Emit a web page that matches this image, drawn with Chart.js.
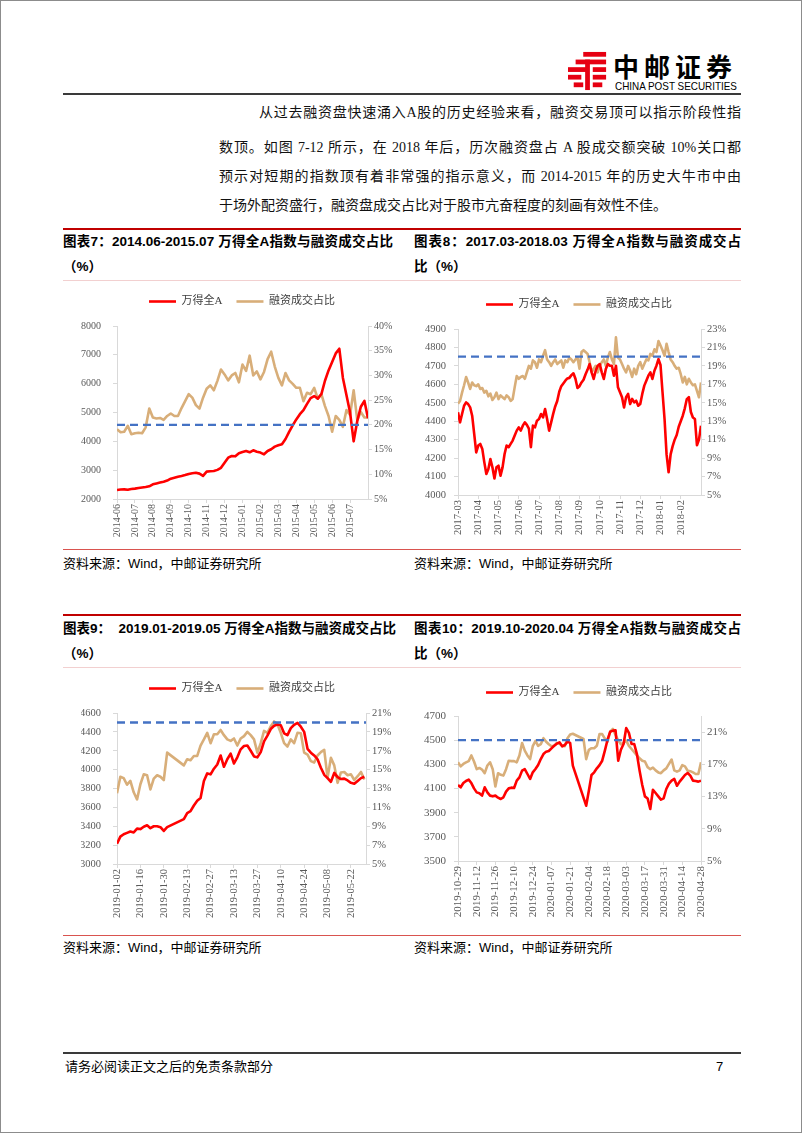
<!DOCTYPE html>
<html lang="zh-CN">
<head>
<meta charset="utf-8">
<script src="https://cdn.jsdelivr.net/npm/chart.js@4.4.1/dist/chart.umd.min.js"></script>
<style>
  html, body { margin: 0; padding: 0; background: #fff; }
  #page { position: relative; width: 802px; height: 1133px; box-sizing: border-box; border: 1px solid #8c8c8c; overflow: hidden;
          font-family: "Liberation Serif", "Noto Sans CJK SC", serif; color: #000; }
  .abs { position: absolute; white-space: nowrap; }
  .line { position: absolute; left: 62px; width: 678px; }
  .para { position: absolute; font-size: 14px; line-height: 20px; white-space: nowrap; text-align: justify; text-align-last: justify; color: #111; }
  .ttl { position: absolute; font-family: "Liberation Sans", "Noto Sans CJK SC", sans-serif; font-weight: bold; font-size: 13.5px;
         line-height: 20px; white-space: nowrap; text-align: justify; text-align-last: justify; }
  .src { position: absolute; font-family: "Liberation Sans", "Noto Sans CJK SC", sans-serif; font-size: 13px; line-height: 18px; white-space: nowrap; }
  canvas { position: absolute; }
</style>
</head>
<body>
<div id="page">
  <!-- header -->
  <svg class="abs" style="left:567px;top:50px" width="40" height="40" viewBox="0 0 42 40">
    <g fill="#E60012">
      <rect x="16" y="0" width="24" height="5"/>
      <rect x="8" y="8" width="32" height="5"/>
      <rect x="0" y="16" width="22" height="5"/>
      <rect x="26" y="16" width="14" height="5"/>
      <rect x="18" y="8" width="5" height="32"/>
      <rect x="0" y="24" width="14" height="5"/>
      <rect x="26" y="24" width="14" height="5"/>
      <rect x="6" y="32" width="10" height="5"/>
      <rect x="26" y="32" width="10" height="5"/>
    </g>
  </svg>
  <div class="abs" style="left:612px;top:51px;font-family:'Noto Sans CJK SC';font-weight:bold;font-size:26px;letter-spacing:5px;line-height:28px;">中邮证券</div>
  <div class="abs" style="left:614px;top:79px;font-family:'Liberation Sans';font-size:11px;line-height:12px;transform:scaleX(0.9);transform-origin:left top;">CHINA POST SECURITIES</div>
  <div class="line" style="top:92px;height:2px;background:#3a3a3a;"></div>

  <!-- paragraph -->
  <div class="para" style="left:258px;top:102px;width:482px;">从过去融资盘快速涌入A股的历史经验来看，融资交易顶可以指示阶段性指</div>
  <div class="para" style="left:218px;top:137px;width:522px;">数顶。如图 7-12 所示，在 2018 年后，历次融资盘占 A 股成交额突破 10%关口都</div>
  <div class="para" style="left:218px;top:166px;width:522px;">预示对短期的指数顶有着非常强的指示意义，而 2014-2015 年的历史大牛市中由</div>
  <div class="para" style="left:218px;top:195px;width:522px;text-align-last:left;">于场外配资盛行，融资盘成交占比对于股市亢奋程度的刻画有效性不佳。</div>

  <!-- first row of figures -->
  <div class="line" style="top:227px;height:2px;background:#C00000;"></div>
  <div class="ttl" style="left:62px;top:231px;width:330px;">图表7：2014.06-2015.07 万得全A指数与融资成交占比</div>
  <div class="ttl" style="left:62px;top:256px;">（%）</div>
  <div class="ttl" style="left:413px;top:231px;width:327px;">图表8：2017.03-2018.03 万得全A指数与融资成交占</div>
  <div class="ttl" style="left:413px;top:256px;">比（%）</div>
  <div class="line" style="top:279px;height:1px;background:#F2D0D0;"></div>

  <canvas id="c1" width="322" height="264" style="left:80px;top:281px;"></canvas>
  <canvas id="c2" width="316" height="261" style="left:420px;top:284px;"></canvas>

  <div class="line" style="top:548px;height:1px;background:#D9534F;"></div>
  <div class="src" style="left:62px;top:554px;">资料来源：Wind，中邮证券研究所</div>
  <div class="src" style="left:413px;top:554px;">资料来源：Wind，中邮证券研究所</div>

  <!-- second row of figures -->
  <div class="line" style="top:613px;height:2px;background:#C00000;"></div>
  <div class="ttl" style="left:62px;top:618px;width:330px;">图表9：&nbsp;&nbsp;2019.01-2019.05 万得全A指数与融资成交占比</div>
  <div class="ttl" style="left:62px;top:643px;">（%）</div>
  <div class="ttl" style="left:413px;top:618px;width:327px;">图表10：2019.10-2020.04 万得全A指数与融资成交占</div>
  <div class="ttl" style="left:413px;top:643px;">比（%）</div>
  <div class="line" style="top:666px;height:1px;background:#F2D0D0;"></div>

  <canvas id="c3" width="322" height="257" style="left:80px;top:668px;"></canvas>
  <canvas id="c4" width="316" height="253" style="left:420px;top:672px;"></canvas>

  <div class="line" style="top:934px;height:1px;background:#D9534F;"></div>
  <div class="src" style="left:62px;top:938px;">资料来源：Wind，中邮证券研究所</div>
  <div class="src" style="left:413px;top:938px;">资料来源：Wind，中邮证券研究所</div>

  <!-- footer -->
  <div class="line" style="top:1051px;height:2px;background:#3a3a3a;"></div>
  <div class="src" style="left:64px;top:1057px;font-family:'Liberation Serif','Noto Sans CJK SC';">请务必阅读正文之后的免责条款部分</div>
  <div class="src" style="left:715px;top:1057px;">7</div>
</div>

<script>
// 阈值线（融资成交占比 20%）
const threshold = 20;

// 图表7：2014.06-2015.07，每 0.2 个月取一个点
const months1 = ['2014-06', '2014-07', '2014-08', '2014-09', '2014-10', '2014-11', '2014-12',
                 '2015-01', '2015-02', '2015-03', '2015-04', '2015-05', '2015-06', '2015-07'];
const step1 = 0.2;
const wind1 = [2312, 2330, 2335, 2320, 2345, 2360, 2380, 2398, 2415, 2440,
               2509, 2540, 2570, 2600, 2640, 2705, 2740, 2775, 2800, 2830,
               2870, 2895, 2910, 2880, 2800, 2950, 2965, 2970, 3010, 3080,
               3260, 3434, 3492, 3480, 3590, 3630, 3665, 3620, 3690, 3640,
               3610, 3550, 3665, 3725, 3815, 3865, 3900, 4080, 4330, 4550,
               4760, 4940, 5080, 5300, 5500, 5570, 5480, 5640, 6100, 6460,
               6750, 7050, 7214, 6200, 5600, 5000, 4000, 4700, 5200, 5400,
               4800];
const ratio1 = [19.1, 18.5, 18.6, 19.8, 18.1, 18.3, 18.4, 18.3, 19.5, 23.3,
                21.5, 21.3, 21.4, 21.0, 21.8, 22.3, 21.8, 21.8, 23.4, 24.8,
                26.2, 25.5, 24.0, 23.3, 25.5, 27.3, 28.0, 27.0, 28.9, 31.2,
                30.2, 29.0, 30.0, 30.5, 28.6, 32.2, 30.9, 34.0, 30.0, 30.8,
                29.2, 30.7, 33.3, 34.8, 31.8, 29.5, 28.0, 30.5, 29.0, 28.3,
                27.5, 27.5, 24.8, 26.5, 26.2, 27.5, 25.3, 26.2, 23.8, 21.8,
                18.6, 21.8, 21.0, 19.6, 23.0, 22.0, 27.0, 21.0, 22.6, 21.5,
                21.5];

// 图表8：2017.03-2018.03，每 0.1 个月取一个点
const months2 = ['2017-03', '2017-04', '2017-05', '2017-06', '2017-07', '2017-08',
                 '2017-09', '2017-10', '2017-11', '2017-12', '2018-01', '2018-02'];
const step2 = 0.1;
const wind2 = [4448, 4394, 4439, 4484, 4502, 4493, 4475, 4430, 4331, 4231,
               4268, 4277, 4250, 4177, 4114, 4141, 4195, 4150, 4090, 4150,
               4159, 4105, 4150, 4222, 4268, 4259, 4277, 4295, 4322, 4349,
               4367, 4349, 4376, 4394, 4380, 4360, 4259, 4376, 4367, 4403,
               4412, 4439, 4421, 4466, 4412, 4349, 4394, 4440, 4480, 4510,
               4560, 4590, 4605, 4620, 4632, 4635, 4650, 4660, 4630, 4580,
               4590, 4610, 4625, 4655, 4680, 4710, 4665, 4629, 4674, 4701,
               4710, 4665, 4629, 4683, 4710, 4701, 4701, 4647, 4701, 4584,
               4557, 4530, 4475, 4530, 4548, 4493, 4521, 4502, 4511, 4484,
               4493, 4548, 4593, 4620, 4647, 4665, 4629, 4674, 4701, 4737,
               4705, 4557, 4412, 4220, 4123, 4220, 4265, 4300, 4325, 4370,
               4400, 4430, 4470, 4520, 4530, 4450, 4420, 4412, 4270, 4300,
               4376];
const ratio2 = [14.9, 15.2, 16.1, 16.9, 17.8, 17.2, 16.5, 17.2, 16.9, 16.8,
                17.0, 16.5, 16.6, 16.1, 16.3, 15.7, 16.0, 15.3, 15.6, 16.1,
                15.4, 15.8, 15.6, 15.4, 15.8, 15.6, 15.2, 15.4, 16.7, 17.9,
                17.6, 17.8, 17.9, 17.6, 18.3, 19.0, 18.7, 19.6, 19.4, 18.8,
                19.7, 19.4, 20.1, 20.7, 19.7, 19.4, 19.0, 19.4, 19.7, 19.2,
                19.4, 19.6, 18.8, 19.6, 19.4, 19.9, 19.7, 19.4, 19.7, 19.9,
                18.7, 20.5, 20.7, 20.5, 20.3, 19.4, 18.3, 18.7, 19.0, 18.3,
                19.0, 19.4, 19.7, 19.0, 19.9, 20.5, 19.7, 19.2, 22.1, 19.9,
                19.7, 19.2, 18.7, 18.3, 19.0, 18.5, 17.8, 18.7, 18.1, 19.0,
                19.4, 18.7, 19.2, 19.7, 19.6, 20.3, 20.1, 20.8, 20.5, 21.7,
                21.2, 20.7, 20.1, 21.4, 20.5, 19.7, 19.4, 19.0, 18.7, 18.8,
                18.1, 17.2, 17.8, 17.0, 17.6, 17.2, 16.9, 17.0, 16.3, 15.6,
                17.2];

// 图表9：2019.01-2019.05，横轴单位为日，每 2 日取一个点（春节休市为空）
const dates3 = ['2019-01-02', '2019-01-16', '2019-01-30', '2019-02-13', '2019-02-27', '2019-03-13',
                '2019-03-27', '2019-04-10', '2019-04-24', '2019-05-08', '2019-05-22'];
const step3 = 2;
const wind3 = [3215, 3290, 3315, 3330, 3345, 3335, 3375, 3370, 3395, 3410,
               3380, 3400, 3400, 3390, 3350, 3390, null, null, null, null,
               3475, 3540, 3560, 3620, 3670, 3700, 3880, 3960, 3950, 4010,
               4055, 4150, 4030, 4110, 4170, 4065, 4130, 4215, 4250, 4255,
               4200, 4140, 4130, 4185, 4300, 4360, 4430, 4465, 4478, 4470,
               4385, 4365, 4440, 4475, 4495, 4455, 4400, 4220, 4180, 4150,
               4110, 4020, 3945, 3910, 3870, 3965, 3920, 3900, 3905, 3885,
               3860, 3850, 3880, 3910, 3925];
const ratio3 = [12.5, 14.25, 14.1, 13.4, 13.8, 12.6, 11.85, 13.45, 14.5, 14.4,
                12.9, 14.05, 14.4, 14.25, 13.9, 16.8, null, null, null, null,
                15.45, 16.1, 16.0, 16.45, 16.45, 17.55, 18.2, 18.9, 17.8, 18.75,
                18.75, 19.2, 18.65, 18.2, 18.05, 18.3, 17.55, 18.3, 18.55, 19.0,
                18.65, 18.2, 16.8, 17.8, 19.1, 18.9, 19.6, 20.1, 19.8, 18.9,
                17.8, 17.45, 18.2, 17.8, 18.9, 18.85, 16.8, 16.6, 15.9, 15.75,
                16.5, 16.85, 17.1, 14.15, 16.25, 15.45, 13.6, 14.7, 14.75, 14.4,
                14.5, 13.9, 14.3, 14.75, 13.95];

// 图表10：2019.10-2020.04，横轴单位为日，每 2 日取一个点
const dates4 = ['2019-10-29', '2019-11-12', '2019-11-26', '2019-12-10', '2019-12-24', '2020-01-07', '2020-01-21',
                '2020-02-04', '2020-02-18', '2020-03-03', '2020-03-17', '2020-03-31', '2020-04-14', '2020-04-28'];
const step4 = 2;
const wind4 = [4129, 4110, 4145, 4162, 4173, 4145, 4101, 4068, 4060, 4041,
               4110, 4068, 4041, 4035, 4041, 4024, 4013, 4027, 4074, 4101,
               4107, 4104, 4165, 4192, 4248, 4261, 4220, 4179, 4234, 4261,
               4294, 4344, 4385, 4405, 4410, 4432, 4454, 4471, 4482, 4449,
               4460, 4488, 4477, 4289, null, null, null, null, 3958, 4082,
               4212, 4234, 4267, 4294, 4330, 4413, 4504, 4570, 4579, 4581,
               4330, 4421, 4468, 4600, 4560, 4468, 4468, 4385, 4248, 4129,
               4035, 4018, 3930, 4090, 4063, 4035, 4008, 4018, 4096, 4140,
               4165, 4179, 4123, 4157, 4184, 4212, 4228, 4206, 4165, 4162,
               4157, 4165];
const ratio4 = [17.25, 16.75, 17.05, 17.25, 17.4, 18.1, 17.35, 16.4, 16.55, 16.35,
                15.9, 16.85, 17.25, 16.4, 14.25, 15.9, 15.7, 15.6, 16.4, 17.45,
                17.4, 17.4, 17.25, 18.1, 19.65, 18.7, 18.1, 17.65, 19.25, 19.9,
                19.3, 19.5, 20.25, 19.8, 19.5, 19.25, 19.3, 19.65, 19.55, 19.3,
                19.25, 20.25, 20.7, 20.8, null, null, null, 20.15, 17.65, 18.8,
                19.0, 19.0, 19.3, 20.75, 20.75, 20.2, 19.8, 21.05, 21.4, 20.65,
                19.95, 19.5, 19.65, 19.95, 19.3, 18.9, 18.5, 18.1, 17.75, 17.45,
                17.35, 16.65, 16.4, 16.6, 16.25, 16.0, 15.9, 16.25, 16.5, 17.05,
                17.6, 16.25, 16.1, 16.25, 16.9, 16.75, 16.2, 16.15, 16.0, 15.8,
                15.8, 17.25];

const RED = '#FF0000';
const TAN = '#D8AE79';
const BLUE = '#4472C4';
const AXIS = '#D9D9D9';
const TICK = '#595959';
const SERIF = "'Liberation Serif', 'Noto Sans CJK SC', serif";

const toPoints = (values, step) => values.map((v, i) => ({ x: i * step, y: v }));

// 固定图例高度，让绘图区顶部对齐原图
const legendHeight = (h) => ({
  id: 'legendHeight',
  beforeInit(chart) {
    const fit = chart.legend.fit;
    chart.legend.fit = function () {
      fit.call(this);
      this.height = h;
    };
  }
});

function drawChart(id, c) {
  const yAxis = (pos, range, width, pad, fmt) => ({
    position: pos,
    min: range[0], max: range[1],
    ticks: { stepSize: range[2], color: TICK, padding: pad, font: { family: SERIF, size: c.font },
             callback: fmt },
    grid: { drawOnChartArea: false, color: AXIS, tickLength: 4 },
    border: { color: AXIS },
    afterFit: s => { s.width = width; }
  });

  new Chart(document.getElementById(id), {
    type: 'line',
    data: {
      datasets: [
        { label: '万得全A', data: toPoints(c.wind, c.step), yAxisID: 'y', borderColor: RED, backgroundColor: RED,
          borderWidth: 2.6, pointRadius: 0, spanGaps: true, borderJoinStyle: 'round', order: 0 },
        { label: '融资成交占比', data: toPoints(c.ratio, c.step), yAxisID: 'y1', borderColor: TAN, backgroundColor: TAN,
          borderWidth: 2.6, pointRadius: 0, spanGaps: true, borderJoinStyle: 'round', order: 1 },
        { label: '', data: [{ x: 0, y: threshold }, { x: c.xMax, y: threshold }], yAxisID: 'y1', borderColor: BLUE,
          borderWidth: 2.4, borderDash: [8, 5], pointRadius: 0, order: -1 }
      ]
    },
    options: {
      responsive: false,
      animation: false,
      devicePixelRatio: 1,
      layout: { padding: 0 },
      plugins: {
        legend: {
          position: 'top',
          labels: { usePointStyle: true, pointStyle: 'line', pointStyleWidth: 27, padding: 14, color: '#404040',
                    font: { family: SERIF, size: 11 }, filter: it => it.text !== '' }
        },
        tooltip: { enabled: false }
      },
      scales: {
        x: {
          type: 'linear', min: 0, max: c.xMax,
          afterBuildTicks: s => { s.ticks = c.labels.map((_, i) => ({ value: i * c.unit })); },
          ticks: { autoSkip: false, minRotation: 90, maxRotation: 90, padding: 1, color: TICK,
                   font: { family: SERIF, size: c.font }, callback: (v, i) => c.labels[i] },
          grid: { drawOnChartArea: false, color: AXIS, tickLength: 4 },
          border: { color: AXIS },
          afterFit: s => { s.height = c.xH; }
        },
        y: yAxis('left', c.left, c.leftW, c.leftPad),
        y1: yAxis('right', c.right, c.rightW, 2, v => v + '%')
      }
    },
    plugins: [legendHeight(c.legendH)]
  });
}

drawChart('c1', { wind: wind1, ratio: ratio1, step: step1, labels: months1, unit: 1, xMax: 14,
                  left: [2000, 8000, 1000], right: [5, 40, 5], leftW: 36, rightW: 35, leftPad: 12,
                  xH: 47, legendH: 44, font: 10 });
drawChart('c2', { wind: wind2, ratio: ratio2, step: step2, labels: months2, unit: 1, xMax: 12,
                  left: [4000, 4900, 100], right: [5, 23, 2], leftW: 37, rightW: 36, leftPad: 8,
                  xH: 51, legendH: 44, font: 10.5 });
drawChart('c3', { wind: wind3, ratio: ratio3, step: step3, labels: dates3, unit: 14, xMax: 149,
                  left: [3000, 4600, 200], right: [5, 21, 2], leftW: 36, rightW: 37, leftPad: 12,
                  xH: 62, legendH: 44, font: 10.5 });
drawChart('c4', { wind: wind4, ratio: ratio4, step: step4, labels: dates4, unit: 14, xMax: 182,
                  left: [3500, 4700, 200], right: [5, 23, 2], leftW: 37, rightW: 36, leftPad: 8,
                  xH: 65, legendH: 43, font: 11 });
</script>
</body>
</html>
